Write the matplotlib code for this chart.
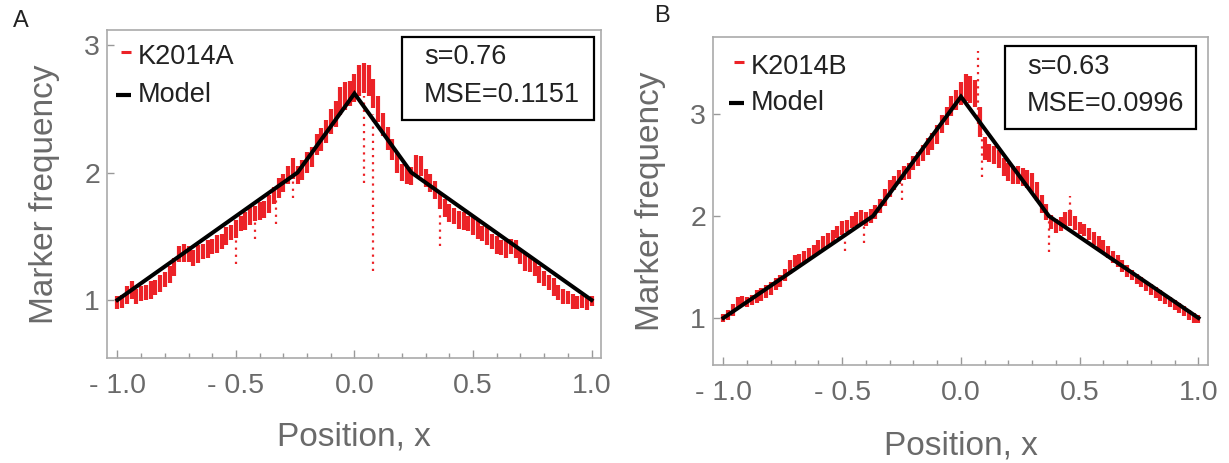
import matplotlib.pyplot as plt
import numpy as np
from matplotlib.ticker import FixedLocator, MultipleLocator
from matplotlib.patches import Rectangle

plt.rcParams['font.family'] = ['Liberation Sans', 'DejaVu Sans']

# positions of the binned marker-frequency readings
pos = np.linspace(-1.0, 1.0, 101)

# panel A (K2014A): bin centre and half-height of each red bar
freq_a = [0.98, 0.99, 1.04, 1.08, 1.03, 1.05, 1.06, 1.08, 1.10, 1.13,
          1.16, 1.20, 1.26, 1.36, 1.37, 1.36, 1.33, 1.36, 1.38, 1.40,
          1.42, 1.44, 1.46, 1.50, 1.53, 1.56, 1.60, 1.62, 1.66, 1.68,
          1.70, 1.71, 1.75, 1.82, 1.88, 1.92, 1.98, 2.03, 1.98, 2.02,
          2.08, 2.12, 2.22, 2.26, 2.32, 2.40, 2.46, 2.56, 2.60, 2.62,
          2.66, 2.72, 2.74, 2.72, 2.62, 2.50, 2.38, 2.27, 2.18, 2.08,
          2.00, 1.98, 1.97, 2.06, 2.05, 1.96, 1.92, 1.86, 1.78, 1.72,
          1.68, 1.66, 1.63, 1.62, 1.60, 1.58, 1.55, 1.52, 1.50, 1.46,
          1.43, 1.41, 1.40, 1.42, 1.40, 1.34, 1.30, 1.28, 1.25, 1.20,
          1.17, 1.14, 1.10, 1.06, 1.03, 1.02, 0.99, 0.98, 0.99, 0.97,
          0.99]
spread_a = [0.05, 0.05, 0.07, 0.07, 0.06, 0.06, 0.06, 0.07, 0.06, 0.07,
            0.06, 0.07, 0.07, 0.06, 0.07, 0.06, 0.06, 0.07, 0.06, 0.07,
            0.06, 0.07, 0.06, 0.07, 0.06, 0.07, 0.06, 0.07, 0.07, 0.06,
            0.07, 0.07, 0.07, 0.07, 0.08, 0.07, 0.07, 0.08, 0.07, 0.08,
            0.08, 0.08, 0.08, 0.09, 0.09, 0.10, 0.10, 0.11, 0.11, 0.10,
            0.11, 0.12, 0.12, 0.12, 0.11, 0.10, 0.09, 0.09, 0.08, 0.08,
            0.07, 0.07, 0.07, 0.08, 0.08, 0.07, 0.07, 0.07, 0.07, 0.07,
            0.07, 0.06, 0.07, 0.07, 0.06, 0.07, 0.07, 0.06, 0.07, 0.06,
            0.07, 0.06, 0.07, 0.06, 0.07, 0.06, 0.07, 0.06, 0.06, 0.07,
            0.06, 0.06, 0.07, 0.06, 0.06, 0.05, 0.06, 0.05, 0.05, 0.05,
            0.04]
# isolated dropouts in A
out_a_x = [-0.50, -0.42, -0.33, -0.26, 0.04, 0.08, 0.36]
out_a_lo = [1.28, 1.48, 1.60, 1.80, 1.92, 1.23, 1.42]
out_a_hi = [1.50, 1.68, 1.80, 2.00, 2.60, 2.46, 1.70]
model_a_x = [-1.0, -0.24, 0.0, 0.24, 1.0]
model_a_y = [1.0, 2.0, 2.62, 2.0, 1.0]

# panel B (K2014B)
freq_b = [1.00, 1.03, 1.08, 1.15, 1.17, 1.16, 1.18, 1.21, 1.23, 1.26,
          1.29, 1.33, 1.36, 1.42, 1.50, 1.56, 1.57, 1.60, 1.63, 1.66,
          1.70, 1.74, 1.77, 1.80, 1.84, 1.88, 1.90, 1.94, 1.97, 1.99,
          1.97, 2.00, 2.04, 2.10, 2.18, 2.27, 2.32, 2.38, 2.42, 2.44,
          2.52, 2.56, 2.62, 2.68, 2.73, 2.80, 2.90, 2.98, 3.08, 3.14,
          3.20, 3.26, 3.24, 3.20, 2.92, 2.66, 2.62, 2.60, 2.56, 2.48,
          2.43, 2.40, 2.40, 2.38, 2.36, 2.33, 2.24, 2.12, 2.04, 1.94,
          1.90, 1.92, 1.96, 1.98, 1.93, 1.88, 1.86, 1.82, 1.78, 1.74,
          1.70, 1.65, 1.60, 1.56, 1.51, 1.46, 1.42, 1.38, 1.35, 1.31,
          1.28, 1.25, 1.22, 1.19, 1.16, 1.13, 1.10, 1.07, 1.03, 1.00,
          0.99]
spread_b = [0.04, 0.05, 0.06, 0.06, 0.05, 0.05, 0.05, 0.06, 0.06, 0.06,
            0.06, 0.06, 0.06, 0.06, 0.07, 0.06, 0.06, 0.06, 0.06, 0.06,
            0.06, 0.06, 0.06, 0.06, 0.06, 0.07, 0.06, 0.06, 0.07, 0.07,
            0.07, 0.07, 0.07, 0.07, 0.08, 0.08, 0.07, 0.07, 0.07, 0.08,
            0.07, 0.07, 0.08, 0.08, 0.08, 0.09, 0.09, 0.09, 0.10, 0.10,
            0.11, 0.13, 0.13, 0.13, 0.15, 0.11, 0.09, 0.09, 0.09, 0.09,
            0.09, 0.09, 0.09, 0.09, 0.09, 0.09, 0.09, 0.09, 0.08, 0.07,
            0.07, 0.07, 0.08, 0.08, 0.07, 0.06, 0.06, 0.06, 0.06, 0.06,
            0.06, 0.06, 0.06, 0.06, 0.06, 0.06, 0.05, 0.05, 0.05, 0.05,
            0.05, 0.05, 0.05, 0.05, 0.05, 0.05, 0.05, 0.05, 0.05, 0.05,
            0.04]
out_b_x = [-0.49, -0.41, -0.25, 0.07, 0.09, 0.37, 0.46]
out_b_lo = [1.66, 1.74, 2.16, 2.90, 2.38, 1.65, 1.90]
out_b_hi = [1.85, 1.95, 2.35, 3.62, 2.80, 1.95, 2.20]
model_b_x = [-1.0, -0.37, 0.0, 0.37, 1.0]
model_b_y = [1.0, 2.0, 3.17, 2.0, 1.0]

xticks = [-1.0, -0.5, 0.0, 0.5, 1.0]
xtick_labels = ['- 1.0', '- 0.5', '0.0', '0.5', '1.0']
yticks = [1, 2, 3]
ytick_labels = ['1', '2', '3']

RED = '#ec2227'
GREY = '#6a6a6a'

W, H = 1229, 463
fig = plt.figure(figsize=(W / 100, H / 100), dpi=100)

panels = [
    dict(box=(107, 30, 601, 358), freq=freq_a, spread=spread_a,
         ox=out_a_x, olo=out_a_lo, ohi=out_a_hi,
         mx=model_a_x, my=model_a_y, ylim=(0.545, 3.118),
         name='K2014A', s='s=0.76', mse='MSE=0.1151',
         stat_box=(402, 37, 594, 120), stat_x=424, stat_y=(57, 95),
         leg_x=138, leg_y=(57, 95), letter='A', letter_xy=(21, 21),
         ylab_x=45, xlab_y=437),
    dict(box=(713, 37, 1208, 365), freq=freq_b, spread=spread_b,
         ox=out_b_x, olo=out_b_lo, ohi=out_b_hi,
         mx=model_b_x, my=model_b_y, ylim=(0.539, 3.755),
         name='K2014B', s='s=0.63', mse='MSE=0.0996',
         stat_box=(1005, 46, 1196, 129), stat_x=1027, stat_y=(67, 104),
         leg_x=751, leg_y=(67, 103), letter='B', letter_xy=(662, 16),
         ylab_x=651, xlab_y=446),
]

for p in panels:
    l, t, r, b = p['box']
    ax = fig.add_axes([l / W, 1 - b / H, (r - l) / W, (b - t) / H])
    fr = np.array(p['freq'])
    sp = np.array(p['spread'])
    ax.vlines(pos, fr - sp, fr + sp, color=RED, lw=3.0, zorder=2)
    ax.vlines(p['ox'], p['olo'], p['ohi'], color=RED, lw=1.6,
              linestyles=(0, (1, 2.2)), zorder=2)
    ax.plot(p['mx'], p['my'], color='black', lw=2.9, zorder=3,
            solid_joinstyle='miter')

    ax.set_xlim(-1.044, 1.04)
    ax.set_ylim(*p['ylim'])
    ax.xaxis.set_major_locator(FixedLocator(xticks))
    ax.set_xticklabels(xtick_labels)
    ax.xaxis.set_minor_locator(MultipleLocator(0.1))
    ax.yaxis.set_major_locator(FixedLocator(yticks))
    ax.set_yticklabels(ytick_labels)
    ax.tick_params(axis='x', which='major', direction='in', length=6,
                   width=1, color='#999999', labelsize=20.5, labelcolor=GREY,
                   pad=11)
    ax.tick_params(axis='x', which='minor', direction='in', length=3.5,
                   width=1, color='#999999')
    ax.tick_params(axis='y', direction='in', length=5, width=1,
                   color='#999999', labelsize=20.5, labelcolor=GREY, pad=5)
    for sp_ in ax.spines.values():
        sp_.set_color('#aaaaaa')
        sp_.set_linewidth(1.2)

    def fx(px):
        return (px - l) / (r - l)

    def fy(py):
        return (b - py) / (b - t)

    # legend
    ax.text(fx(p['leg_x']), fy(p['leg_y'][0]), p['name'], transform=ax.transAxes,
            fontsize=19.5, color='#222222', va='center', ha='left')
    ax.text(fx(p['leg_x']), fy(p['leg_y'][1]), 'Model', transform=ax.transAxes,
            fontsize=19.5, color='#222222', va='center', ha='left')
    ax.plot([fx(p['leg_x'] - 17), fx(p['leg_x'] - 7)],
            [fy(p['leg_y'][0] - 5)] * 2, transform=ax.transAxes,
            color=RED, lw=2.2, solid_capstyle='butt')
    ax.plot([fx(p['leg_x'] - 22), fx(p['leg_x'] - 7)],
            [fy(p['leg_y'][1])] * 2, transform=ax.transAxes,
            color='black', lw=3.0, solid_capstyle='butt')

    # stats box
    bl, bt, br, bb = p['stat_box']
    ax.add_patch(Rectangle((fx(bl), fy(bb)), fx(br) - fx(bl), fy(bt) - fy(bb),
                           transform=ax.transAxes, fill=False,
                           edgecolor='black', lw=1.6, zorder=4))
    ax.text(fx(p['stat_x']), fy(p['stat_y'][0]), p['s'], transform=ax.transAxes,
            fontsize=19.5, color='#222222', va='center', ha='left')
    ax.text(fx(p['stat_x']), fy(p['stat_y'][1]), p['mse'], transform=ax.transAxes,
            fontsize=19.5, color='#222222', va='center', ha='left')

    # axis titles and panel letter
    fig.text(p['ylab_x'] / W, 1 - (t + b) / 2 / H, 'Marker frequency',
             rotation=90, ha='center', va='center', fontsize=24, color=GREY)
    fig.text((l + r) / 2 / W, 1 - p['xlab_y'] / H, 'Position, x',
             ha='center', va='center', fontsize=24, color=GREY)
    fig.text(p['letter_xy'][0] / W, 1 - p['letter_xy'][1] / H, p['letter'],
             ha='center', va='center', fontsize=17, color='#222222')

fig.savefig('out.png', dpi=100)
